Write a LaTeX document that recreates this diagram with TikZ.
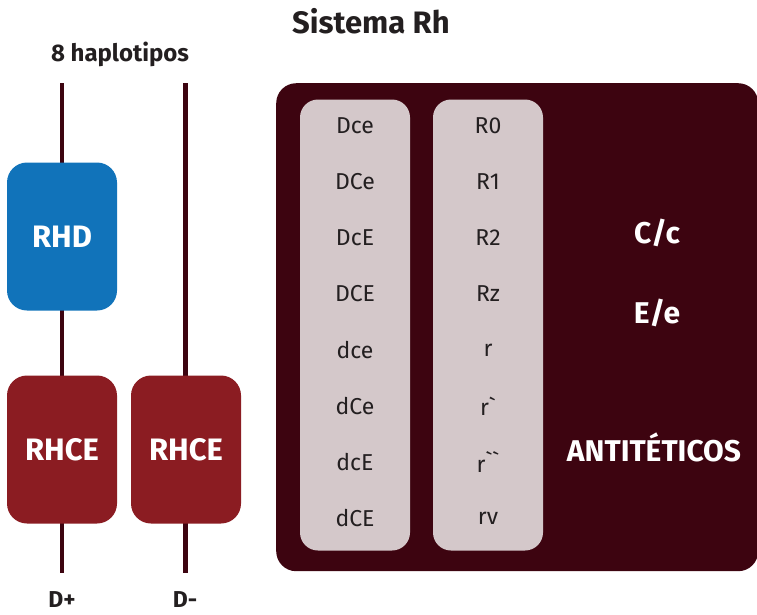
\documentclass[tikz,border=0pt]{standalone}
\usepackage{fontspec}
\setmainfont{Fira Sans}
\newfontfamily\rawfs{Fira Sans}[Ligatures=TeXOff]
\definecolor{darkbox}{HTML}{3D0410}
\definecolor{lightcol}{HTML}{D4C8CA}
\definecolor{rhdblue}{HTML}{1173BA}
\definecolor{rhcered}{HTML}{8B1C22}
\definecolor{txtdark}{HTML}{231F20}
\tikzset{
  gene/.style={rounded corners=20pt, minimum width=110pt, minimum height=148pt, inner sep=0pt,
    text=white, font=\fontsize{31}{33}\selectfont\bfseries},
  colbox/.style={fill=lightcol, rounded corners=18pt, minimum width=110pt, minimum height=451pt, inner sep=0pt},
  celltxt/.style={text=txtdark, font=\rawfs\fontsize{23}{25}\selectfont, inner sep=0pt},
  bigtxt/.style={text=white, font=\fontsize{30}{32}\selectfont\bfseries, inner sep=0pt},
  headtxt/.style={text=txtdark, font=\fontsize{24}{26}\selectfont\bfseries, inner sep=0pt},
  chrom/.style={draw=darkbox, line width=4.5pt}
}
\begin{document}
\begin{tikzpicture}[x=1pt, y=-1pt]
\useasboundingbox (0,0) rectangle (757,614);
% title
\node[text=txtdark, font=\fontsize{31}{33}\selectfont\bfseries, inner sep=0pt] (title) at (371,21) {Sistema Rh};
\node[headtxt] (hap) at (120,54) {8 haplotipos};
% chromosome lines
\coordinate (t1) at (62,83);
\coordinate (b1) at (62,573);
\coordinate (t2) at (185.5,83);
\coordinate (b2) at (185.5,573);
\draw[chrom] (t1) -- (b1);
\draw[chrom] (t2) -- (b2);
% genes
\node[gene, fill=rhdblue] (rhd) at (62,236.5) {RHD};
\node[gene, fill=rhcered] (rhce1) at (62,449.5) {RHCE};
\node[gene, fill=rhcered] (rhce2) at (186,449.5) {RHCE};
\node[headtxt, font=\fontsize{23}{25}\selectfont\bfseries] (dplus) at (62,600) {D+};
\node[headtxt, font=\fontsize{23}{25}\selectfont\bfseries] (dminus) at (185,600) {D-};
% big box
\node[fill=darkbox, rounded corners=20pt, minimum width=482pt, minimum height=488pt, inner sep=0pt, anchor=north west] (big) at (276,83) {};
\node[colbox] (col1) at (355,325) {};
\node[colbox] (col2) at (488,325) {};
\foreach \i/\a/\b in {0/Dce/R0, 1/DCe/R1, 2/DcE/R2, 3/DCE/Rz, 4/dce/r, 5/dCe/r`, 6/dcE/r``, 7/dCE/rv}{
  \node[celltxt] (h\i) at (355,126+56*\i) {\a};
  \node[celltxt] (n\i) at (488,126+56*\i) {\b};
}
\node[bigtxt] (cc) at (657,233) {C/c};
\node[bigtxt] (ee) at (657,313) {E/e};
\node[bigtxt] (anti) at (654,447) {ANTITÉTICOS};
\end{tikzpicture}
\end{document}
